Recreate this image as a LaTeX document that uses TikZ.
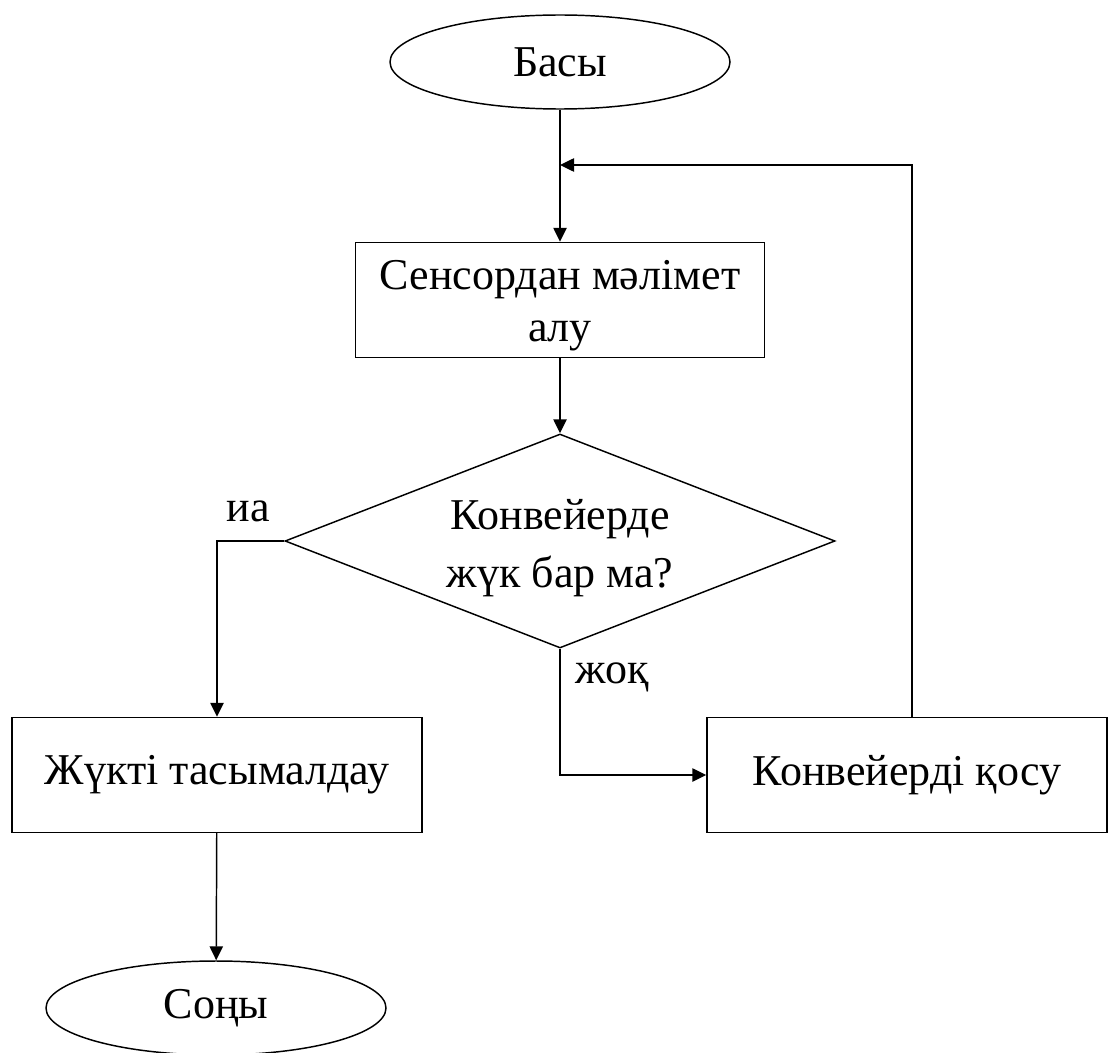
\documentclass[tikz,border=0pt]{standalone}
\usepackage{fontspec}
\setmainfont{Liberation Serif}
\usetikzlibrary{shapes.geometric,arrows.meta}
\begin{document}
\begin{tikzpicture}[x=0.75pt,y=-0.75pt,
  every node/.style={font=\fontsize{33}{39}\selectfont, inner sep=0pt},
  term/.style={draw, ellipse, line width=1.1pt, minimum width=255pt, minimum height=70.5pt},
  procbox/.style={draw, rectangle, line width=1.1pt, align=center, minimum height=86.25pt},
  decide/.style={draw, diamond, line width=1.1pt, shape aspect=2.57,
     minimum width=412.5pt, minimum height=160.5pt},
  txt/.style={align=center},
  flow/.style={line width=1.1pt, -{Triangle[length=10.5pt,width=10pt]}},
  lbl/.style={anchor=base}
]
\useasboundingbox (0,0) rectangle (1109,1052);
\node[term] (start) at (560,62) {Басы};
\node[procbox, minimum width=306.75pt] (sensor) at (560,300) {};
\node[txt] (sensortext) at (560,306) {Сенсордан мәлімет\\алу};
\node[decide] (check) at (560,541) {};
\node[txt, font=\fontsize{33}{43.5}\selectfont] (checktext) at (560,548) {Конвейерде\\жүк бар ма?};
\node[procbox, minimum width=307.5pt] (move) at (217,775) {Жүкті тасымалдау};
\node[procbox, minimum width=300pt] (conv) at (907,775) {Конвейерді қосу};
\node[term] (stop) at (216,1008) {Соңы};
\node[lbl] (yes) at (248,521) {иа};
\node[lbl] (no) at (612,683) {жоқ};
\coordinate (loop) at (912,165);

\draw[flow] (start) -- (sensor);
\draw[flow] (sensor) -- (check);
\draw[flow] (check.west) -| (move.north);
\draw[flow] (move) -- (stop);
\draw[flow] (check.south) |- (conv.west);
\draw[flow] (conv.north -| loop) -- (loop) -- (loop -| start.south);
\end{tikzpicture}
\end{document}
